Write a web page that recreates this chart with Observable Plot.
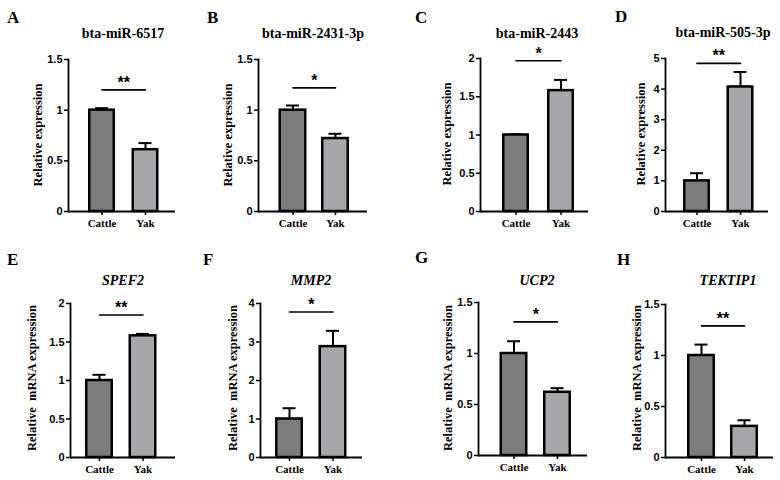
<!DOCTYPE html>
<html>
<head>
<meta charset="utf-8">
<script src="https://cdn.jsdelivr.net/npm/d3@7"></script>
<script src="https://cdn.jsdelivr.net/npm/@observablehq/plot@0.6"></script>
<style>
  body { margin: 0; background: white; }
  #wrap { position: relative; width: 780px; height: 480px; overflow: hidden; background: white; }
  .panel { position: absolute; }
  #overlay { position: absolute; left: 0; top: 0; pointer-events: none; }
</style>
</head>
<body>
<div id="wrap"></div>
<script>
// ---- data ----
const groups = ["Cattle", "Yak"];
const panelLetters = ["A", "B", "C", "D", "E", "F", "G", "H"];
const panelTitles = ["bta-miR-6517", "bta-miR-2431-3p", "bta-miR-2443", "bta-miR-505-3p", "SPEF2", "MMP2", "UCP2", "TEKTIP1"];
const titleItalic = [false, false, false, false, true, true, true, true];
const yTitles = ["Relative expression", "Relative expression", "Relative expression", "Relative expression",
  "Relative  mRNA expression", "Relative  mRNA expression", "Relative  mRNA expression", "Relative  mRNA expression"];
const cattleMean = [1, 1, 1, 1, 1, 1, 1, 1];
const cattleErr = [0.02, 0.046, 0.01, 0.25, 0.074, 0.28, 0.12, 0.107];
const yakMean = [0.61, 0.72, 1.58, 4.07, 1.58, 2.88, 0.62, 0.305];
const yakErr = [0.065, 0.047, 0.14, 0.49, 0.025, 0.41, 0.04, 0.06];
const significance = ["**", "*", "*", "**", "**", "*", "*", "**"];
const sigLevel = [1.2, 1.22, 1.97, 4.84, 1.85, 3.78, 1.31, 1.29];
const yMax = [1.5, 1.5, 2, 5, 2, 4, 1.5, 1.5];
const yTicks = [
  [0, 0.5, 1, 1.5], [0, 0.5, 1, 1.5], [0, 0.5, 1, 1.5, 2], [0, 1, 2, 3, 4, 5],
  [0, 0.5, 1, 1.5, 2], [0, 1, 2, 3, 4], [0, 0.5, 1, 1.5], [0, 0.5, 1, 1.5]
];
const barColors = ["#7c7c7c", "#a7a7aa"];

// ---- layout (pixel positions of each panel) ----
const layout = [
  {left: 0,   top: 40,  w: 190, h: 200, axis: 68,  end: 175, c1: 101.5, c2: 145,   bw: 27, y0: 211, yTop: 59,
   lx: 7,   ly: 23,  tx: 123, ty: 38,  yx: 38,  yy: 135},
  {left: 190, top: 40,  w: 195, h: 200, axis: 258, end: 367, c1: 292.5, c2: 335,   bw: 28, y0: 211, yTop: 59,
   lx: 207, ly: 23,  tx: 313, ty: 38,  yx: 228, yy: 135},
  {left: 385, top: 40,  w: 200, h: 200, axis: 480, end: 588, c1: 515.5, c2: 560.5, bw: 27, y0: 211, yTop: 58,
   lx: 415, ly: 23,  tx: 537, ty: 38,  yx: 447, yy: 134},
  {left: 585, top: 40,  w: 195, h: 200, axis: 665, end: 768, c1: 696.5, c2: 740,   bw: 27, y0: 211, yTop: 58,
   lx: 615, ly: 22,  tx: 723, ty: 37,  yx: 641, yy: 134},
  {left: 0,   top: 270, w: 190, h: 210, axis: 70,  end: 175, c1: 99,    c2: 142.5, bw: 28, y0: 457, yTop: 303,
   lx: 7,   ly: 265, tx: 123, ty: 285, yx: 32,  yy: 378},
  {left: 190, top: 270, w: 195, h: 210, axis: 260, end: 362, c1: 289,   c2: 332.5, bw: 28, y0: 457, yTop: 303,
   lx: 203, ly: 265, tx: 311, ty: 285, yx: 233, yy: 378},
  {left: 385, top: 270, w: 200, h: 210, axis: 478, end: 587, c1: 513.5, c2: 557,   bw: 28, y0: 455, yTop: 302,
   lx: 415, ly: 263, tx: 537, ty: 285, yx: 448, yy: 378},
  {left: 585, top: 270, w: 195, h: 210, axis: 665, end: 773, c1: 701,   c2: 744,   bw: 28, y0: 457, yTop: 304,
   lx: 617, ly: 265, tx: 728, ty: 285, yx: 637, yy: 378}
];

const wrap = document.getElementById("wrap");

layout.forEach((L, i) => {
  const data = [
    {group: groups[0], mean: cattleMean[i], err: cattleErr[i]},
    {group: groups[1], mean: yakMean[i], err: yakErr[i]}
  ];
  const bwEff = L.bw - 2.5;
  const step = L.c2 - L.c1;
  const R = L.end - L.axis;
  const pi = 1 - bwEff / step;
  const po = Math.max(0, (R / step - (2 - pi)) / 2);
  const align = (L.c1 - bwEff / 2 - L.axis) / Math.max(1e-6, R - step * (2 - pi));
  const capInset = (bwEff - 13) / 2;
  const sigData = groups.map(g => ({group: g, y: sigLevel[i]}));

  const chart = Plot.plot({
    width: L.w,
    height: L.h,
    marginLeft: L.axis - L.left,
    marginRight: L.left + L.w - L.end,
    marginTop: L.yTop - L.top,
    marginBottom: L.top + L.h - L.y0,
    style: {background: "transparent", overflow: "visible", color: "black"},
    x: {type: "band", domain: groups, paddingInner: pi, paddingOuter: po, align: Math.min(1, Math.max(0, align)), round: false},
    y: {domain: [0, yMax[i]]},
    color: {domain: groups, range: barColors},
    marks: [
      Plot.ruleX(data, {x: "group", y1: "mean", y2: d => d.mean + d.err, stroke: "black", strokeWidth: 2}),
      Plot.tickY(data, {x: "group", y: d => d.mean + d.err, stroke: "black", strokeWidth: 2, insetLeft: capInset, insetRight: capInset}),
      Plot.barY(data, {x: "group", y: "mean", fill: "group", stroke: "black", strokeWidth: 2.5}),
      Plot.frame({anchor: "left", stroke: "black", strokeWidth: 1.8}),
      Plot.ruleY([0], {stroke: "black", strokeWidth: 1.8}),
      Plot.axisY({ticks: yTicks[i], tickFormat: d => String(d), tickSize: 4, tickPadding: 2,
        fontFamily: "Liberation Sans, Arial, sans-serif", fontWeight: "bold", fontSize: 11, label: null,
        stroke: "black", strokeWidth: 1.5}),
      Plot.axisX({tickSize: 4, tickPadding: 4, fontFamily: "Liberation Serif, Times New Roman, serif",
        fontWeight: "bold", fontSize: 11, label: null, stroke: "black", strokeWidth: 1.5}),
      Plot.line(sigData, {x: "group", y: "y", stroke: "black", strokeWidth: 1.6}),
      Plot.text([significance[i]], {x: () => groups[1], y: () => sigLevel[i], text: d => d, dx: -step / 2, dy: -2,
        lineAnchor: "bottom", fontFamily: "Liberation Sans, Arial, sans-serif", fontWeight: "bold", fontSize: 16,
        fill: "black"})
    ]
  });
  const div = document.createElement("div");
  div.className = "panel";
  div.style.left = L.left + "px";
  div.style.top = L.top + "px";
  div.appendChild(chart);
  wrap.appendChild(div);
});

// overlay for panel letters, titles and y-axis titles
const svg = d3.select(wrap).append("svg").attr("id", "overlay").attr("width", 780).attr("height", 480);
layout.forEach((L, i) => {
  svg.append("text").attr("x", L.lx).attr("y", L.ly)
    .attr("font-family", "Liberation Serif, Times New Roman, serif").attr("font-weight", "bold")
    .attr("font-size", 17).text(panelLetters[i]);
  svg.append("text").attr("x", L.tx).attr("y", L.ty).attr("text-anchor", "middle")
    .attr("font-family", "Liberation Serif, Times New Roman, serif").attr("font-weight", "bold")
    .attr("font-style", titleItalic[i] ? "italic" : "normal")
    .attr("font-size", 14).text(panelTitles[i]);
  svg.append("text").attr("transform", `translate(${L.yx},${L.yy}) rotate(-90)`)
    .attr("text-anchor", "middle").attr("dy", "0.35em")
    .attr("font-family", "Liberation Serif, Times New Roman, serif").attr("font-weight", "bold")
    .attr("font-size", 12.5).attr("xml:space", "preserve").style("white-space", "pre").text(yTitles[i]);
});
</script>
</body>
</html>
